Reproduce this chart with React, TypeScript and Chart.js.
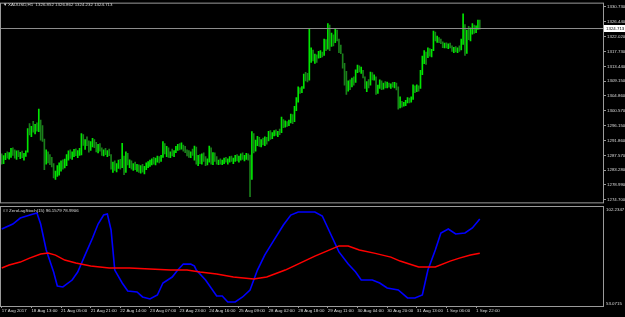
import { useEffect, useRef } from "react";
import { Chart, registerables } from "chart.js";

Chart.register(...registerables);

// ---------- data ----------
const symbolTitle = "XAUUSD,H1";
const lastOHLC = [1326.852, 1326.862, 1324.232, 1324.713];
const bidPrice = 1324.713;
const indicatorTitle = "## ZeroLagStoch(15)";

const firstOpen = 1286.6;
const barHigh = [
  1288.0, 1287.5, 1288.2, 1288.6, 1288.4, 1289.6, 1289.8, 1289.2, 1288.9, 1289.0,
  1288.5, 1288.8, 1288.2, 1288.9, 1295.4, 1296.8, 1296.0, 1297.5, 1296.6, 1297.0,
  1301.0, 1297.8, 1296.2, 1292.3, 1289.2, 1288.6, 1287.8, 1287.0, 1285.2, 1283.0,
  1284.6, 1285.4, 1286.0, 1286.3, 1286.5, 1287.8, 1288.9, 1289.2, 1288.6, 1289.3,
  1289.5, 1289.0, 1289.6, 1293.9, 1293.6, 1292.2, 1293.0, 1291.8, 1291.6, 1292.5,
  1292.2, 1291.4, 1290.8, 1291.0, 1289.8, 1289.2, 1289.6, 1289.0, 1289.4, 1287.8,
  1285.6, 1286.0, 1285.2, 1286.2, 1286.4, 1291.1, 1287.4, 1288.6, 1288.2, 1286.3,
  1286.0, 1285.2, 1285.6, 1285.0, 1284.8, 1284.6, 1285.0, 1284.4, 1285.4, 1285.8,
  1286.2, 1286.6, 1287.0, 1286.8, 1287.4, 1287.2, 1287.6, 1291.6, 1291.0, 1290.2,
  1289.8, 1288.6, 1289.4, 1289.0, 1290.2, 1290.8, 1291.0, 1291.2, 1290.6, 1290.2,
  1289.2, 1289.0, 1288.6, 1289.4, 1290.3, 1290.0, 1287.6, 1287.8, 1288.0, 1288.3,
  1287.2, 1286.6, 1290.3, 1289.8, 1288.4, 1288.3, 1287.2, 1286.2, 1286.6, 1286.2,
  1286.8, 1287.0, 1286.6, 1287.2, 1287.4, 1286.8, 1287.6, 1287.8, 1287.4, 1288.0,
  1288.3, 1287.6, 1288.2, 1288.0, 1287.7, 1294.5, 1293.9, 1292.0, 1293.1, 1292.8,
  1292.2, 1292.6, 1293.0, 1292.8, 1294.6, 1294.8, 1294.2, 1294.8, 1295.0, 1294.6,
  1295.2, 1298.7, 1298.0, 1297.6, 1297.4, 1297.8, 1299.6, 1299.4, 1301.8, 1304.4,
  1307.5, 1307.2, 1307.6, 1311.2, 1311.7, 1311.4, 1324.5, 1318.8, 1318.2, 1317.0,
  1316.8, 1317.8, 1318.0, 1317.6, 1321.4, 1321.2, 1325.9, 1325.4, 1323.1, 1322.6,
  1324.5, 1324.0, 1321.4, 1319.6, 1317.1, 1314.3, 1312.0, 1309.2, 1309.5, 1310.0,
  1310.4, 1312.4, 1313.8, 1313.6, 1313.2, 1312.3, 1310.4, 1309.0, 1309.6, 1311.8,
  1311.6, 1311.0, 1310.4, 1308.0, 1309.5, 1309.2, 1308.6, 1309.0, 1308.9, 1308.6,
  1308.4, 1308.8, 1308.8, 1308.6, 1307.5, 1304.6, 1303.3, 1303.0, 1303.6, 1304.4,
  1304.2, 1304.6, 1308.1, 1307.8, 1308.1, 1307.8, 1312.3, 1316.4, 1318.0, 1317.6,
  1318.8, 1318.6, 1318.4, 1323.7, 1323.4, 1322.2, 1321.8, 1321.4, 1320.6, 1320.2,
  1320.3, 1320.0, 1320.2, 1319.4, 1319.0, 1319.2, 1318.8, 1319.4, 1321.4, 1328.7,
  1325.6, 1324.0, 1325.1, 1324.6, 1325.9, 1325.4, 1325.2, 1326.9, 1326.862,
];
const barLow = [
  1285.0, 1285.2, 1286.3, 1286.8, 1286.5, 1287.0, 1287.6, 1286.8, 1286.4, 1287.2,
  1286.6, 1286.9, 1286.2, 1287.3, 1288.5, 1293.5, 1293.0, 1294.3, 1293.8, 1294.6,
  1294.5, 1292.0, 1291.6, 1283.4, 1285.0, 1285.4, 1284.9, 1284.2, 1281.0, 1280.6,
  1281.5, 1281.8, 1283.0, 1283.6, 1283.9, 1284.6, 1286.2, 1286.7, 1286.4, 1287.2,
  1287.5, 1286.9, 1287.6, 1287.7, 1290.5, 1289.3, 1290.4, 1288.5, 1289.0, 1290.0,
  1289.8, 1288.6, 1288.3, 1288.8, 1287.6, 1287.4, 1287.8, 1287.2, 1287.5, 1283.6,
  1282.6, 1283.2, 1282.8, 1283.8, 1283.6, 1284.0, 1282.0, 1282.6, 1284.8, 1284.0,
  1283.6, 1283.2, 1283.4, 1282.9, 1282.6, 1282.4, 1282.7, 1282.2, 1283.4, 1284.0,
  1284.4, 1284.8, 1285.0, 1284.8, 1285.6, 1285.4, 1285.8, 1287.0, 1288.0, 1287.2,
  1287.0, 1286.9, 1287.4, 1287.2, 1288.4, 1289.0, 1289.2, 1289.4, 1288.8, 1288.4,
  1287.4, 1287.0, 1286.9, 1287.6, 1286.2, 1285.0, 1284.6, 1285.2, 1285.0, 1285.8,
  1284.6, 1284.8, 1285.6, 1285.0, 1284.9, 1285.8, 1285.0, 1284.9, 1285.0, 1284.9,
  1285.2, 1285.6, 1285.0, 1285.6, 1285.8, 1285.2, 1285.8, 1286.0, 1285.6, 1286.2,
  1286.4, 1286.0, 1286.4, 1286.2, 1275.6, 1280.6, 1288.3, 1288.8, 1290.4, 1290.2,
  1290.0, 1290.6, 1290.4, 1290.8, 1291.8, 1292.2, 1292.4, 1293.2, 1293.4, 1293.0,
  1293.6, 1294.2, 1295.6, 1295.8, 1296.0, 1296.2, 1297.0, 1296.8, 1297.4, 1300.6,
  1303.0, 1305.6, 1305.8, 1307.0, 1309.2, 1308.9, 1309.4, 1314.6, 1315.0, 1314.3,
  1314.6, 1315.8, 1316.0, 1316.2, 1316.6, 1318.0, 1318.4, 1318.0, 1319.2, 1319.4,
  1320.3, 1320.8, 1317.4, 1317.1, 1312.9, 1308.0, 1305.3, 1306.2, 1306.7, 1307.5,
  1308.0, 1308.8, 1311.6, 1311.8, 1311.4, 1310.1, 1307.0, 1306.1, 1307.2, 1308.0,
  1309.5, 1309.4, 1305.3, 1305.6, 1307.0, 1306.7, 1306.8, 1307.2, 1307.2, 1307.4,
  1307.0, 1307.4, 1307.2, 1306.6, 1301.0, 1301.4, 1301.6, 1301.9, 1302.0, 1302.8,
  1302.8, 1303.0, 1303.8, 1305.8, 1306.1, 1306.2, 1307.0, 1311.0, 1314.2, 1314.0,
  1316.0, 1316.4, 1316.2, 1318.0, 1320.8, 1320.4, 1320.3, 1320.0, 1318.9, 1318.8,
  1318.8, 1318.6, 1318.8, 1317.8, 1317.4, 1317.6, 1317.4, 1317.8, 1318.2, 1319.8,
  1316.6, 1317.2, 1321.2, 1320.8, 1322.8, 1323.0, 1323.2, 1324.2, 1324.232,
];
const barClose = [
  1286.0, 1287.0, 1287.8, 1287.2, 1288.0, 1289.0, 1288.2, 1287.5, 1288.4, 1287.6,
  1287.9, 1287.0, 1287.7, 1288.6, 1294.8, 1294.2, 1295.6, 1294.9, 1296.2, 1295.0,
  1297.2, 1292.6, 1292.1, 1285.0, 1288.0, 1286.3, 1285.6, 1284.8, 1281.8, 1282.4,
  1283.9, 1284.5, 1285.4, 1284.6, 1286.0, 1287.3, 1288.4, 1287.5, 1288.2, 1288.8,
  1288.0, 1288.6, 1289.2, 1293.0, 1291.2, 1291.8, 1290.9, 1289.6, 1291.0, 1291.8,
  1290.4, 1289.2, 1290.2, 1289.4, 1288.2, 1288.8, 1288.0, 1288.6, 1287.9, 1284.2,
  1284.8, 1283.8, 1284.6, 1285.8, 1284.2, 1286.5, 1282.8, 1287.8, 1285.4, 1285.8,
  1284.2, 1284.8, 1283.9, 1284.4, 1283.2, 1283.8, 1283.0, 1284.0, 1285.0, 1285.5,
  1285.9, 1286.3, 1285.6, 1286.5, 1287.0, 1286.2, 1287.4, 1290.8, 1288.6, 1289.6,
  1287.6, 1288.2, 1287.8, 1288.6, 1289.8, 1290.4, 1289.6, 1290.8, 1289.4, 1288.8,
  1288.6, 1287.4, 1288.2, 1288.0, 1289.8, 1285.6, 1286.8, 1285.8, 1287.4, 1286.2,
  1285.2, 1286.2, 1289.6, 1285.8, 1287.8, 1286.4, 1285.4, 1285.8, 1285.4, 1286.0,
  1286.4, 1285.9, 1286.2, 1286.8, 1286.0, 1286.4, 1287.2, 1286.4, 1287.0, 1287.6,
  1286.8, 1287.2, 1287.8, 1286.6, 1281.0, 1292.8, 1290.0, 1291.4, 1292.6, 1290.8,
  1291.8, 1291.2, 1292.4, 1291.4, 1294.0, 1292.8, 1293.8, 1294.2, 1293.6, 1294.4,
  1294.0, 1297.8, 1296.4, 1297.2, 1296.4, 1297.5, 1299.0, 1298.4, 1301.2, 1303.4,
  1306.8, 1306.2, 1307.2, 1310.4, 1310.0, 1309.6, 1315.4, 1317.4, 1315.6, 1316.2,
  1315.2, 1316.6, 1317.4, 1316.8, 1320.8, 1319.2, 1324.6, 1319.6, 1322.2, 1320.6,
  1323.6, 1321.4, 1318.0, 1317.6, 1313.6, 1309.0, 1306.8, 1308.4, 1307.4, 1309.6,
  1308.6, 1311.8, 1313.2, 1312.2, 1312.8, 1310.6, 1307.6, 1308.4, 1307.8, 1311.2,
  1310.0, 1310.6, 1306.2, 1307.4, 1308.8, 1307.2, 1308.2, 1307.6, 1308.4, 1307.8,
  1308.0, 1307.6, 1308.2, 1307.0, 1302.0, 1303.6, 1302.2, 1302.8, 1303.2, 1304.0,
  1303.4, 1304.2, 1307.4, 1306.4, 1307.6, 1306.8, 1311.6, 1315.8, 1316.8, 1315.0,
  1318.2, 1317.0, 1317.8, 1322.8, 1321.4, 1321.6, 1320.8, 1320.4, 1319.4, 1319.8,
  1319.2, 1319.6, 1319.0, 1318.2, 1318.6, 1317.9, 1318.4, 1318.0, 1320.8, 1323.0,
  1318.0, 1323.2, 1322.6, 1324.0, 1324.8, 1323.6, 1324.8, 1326.852, 1324.713,
];

const priceTicks = [
  1274.7, 1278.99, 1283.28, 1287.57, 1291.86, 1296.15, 1300.57,
  1304.86, 1309.15, 1313.44, 1317.73, 1322.02, 1326.44, 1330.73,
];

// ZeroLagStoch lines: bar index -> value
const blueBar = [
  0, 6, 10, 17, 19, 21, 24, 28, 30, 33, 38, 41, 45, 49, 52, 55, 57, 59, 61, 65,
  68, 73, 76, 80, 84, 87, 92, 95, 98, 102, 104, 105, 110, 116, 119, 122, 126, 130, 134, 138,
  142, 147, 152, 156, 160, 169, 173, 177, 182, 187, 191, 194, 200, 204, 208, 214, 219, 223, 227, 230,
  234, 237, 241, 245, 250, 254, 258,
];
const blueVal = [
  91.2, 93.7, 96.7, 98.7, 99.2, 93.7, 80.7, 69.6, 62.6, 62.1, 65.6, 69.6, 78.2, 86.7, 93.7, 98.2, 98.7, 90.7, 70.6, 64.1,
  60.1, 59.6, 57.1, 56.1, 58.1, 64.1, 67.1, 70.6, 73.6, 73.6, 72.6, 70.6, 65.6, 57.6, 57.6, 54.6, 54.6, 57.1, 60.6, 70.6,
  78.2, 85.7, 93.2, 98.2, 99.7, 99.7, 97.7, 89.7, 79.7, 73.6, 69.6, 65.6, 65.6, 64.1, 61.6, 60.6, 56.6, 56.6, 58.1, 70.6,
  80.7, 89.2, 91.2, 88.7, 89.2, 91.7, 96.1579,
];
const redBar = [
  0, 4, 10, 15, 21, 25, 29, 34, 40, 48, 58, 69, 80, 91, 100, 107, 116, 125, 136, 143,
  153, 161, 169, 177, 182, 187, 193, 201, 210, 215, 220, 225, 234, 242, 247, 253, 258,
];
const redVal = [
  71.6, 73.1, 74.6, 76.6, 78.6, 79.1, 78.1, 75.6, 74.1, 72.6, 71.6, 71.6, 71.1, 70.6, 70.6, 69.6, 68.6, 67.1, 66.1, 67.1,
  70.6, 74.1, 77.6, 80.7, 82.7, 82.7, 80.7, 79.1, 77.1, 75.1, 73.6, 72.1, 72.1, 75.1, 76.6, 78.1, 78.9906,
];
const stochScaleLabels = [53.0715, 102.2347];

const timeLabels = [
  "17 Aug 2017", "18 Aug 13:00", "21 Aug 05:00", "21 Aug 21:00", "22 Aug 14:00",
  "23 Aug 07:00", "23 Aug 23:00", "24 Aug 16:00", "25 Aug 09:00", "28 Aug 02:00",
  "28 Aug 18:00", "29 Aug 11:00", "30 Aug 04:00", "30 Aug 20:00", "31 Aug 13:00",
  "1 Sep 06:00", "1 Sep 22:00",
];
const barsPerTimeLabel = 16;

// ---------- styles ----------
const FONT = "'Liberation Sans', Arial, sans-serif";
const FS = 4.4;
const TEXT = "#dcdcdc";
const FRAME = "#9a9a9a";
const UP = "#00e600";
const DOWN = "#1b7f1b";
const X_MIN = -0.4;
const X_MAX = 324.5;

const framePlugin = {
  id: "frame",
  afterDraw(chart: any) {
    const { ctx, chartArea: a } = chart;
    ctx.save();
    ctx.strokeStyle = FRAME;
    ctx.lineWidth = 1;
    ctx.strokeRect(a.left - 0.5, a.top - 0.5, a.right - a.left + 1, a.bottom - a.top + 1);
    ctx.restore();
  },
};

export default function App() {
  const topRef = useRef<HTMLCanvasElement>(null);
  const botRef = useRef<HTMLCanvasElement>(null);

  useEffect(() => {
    const opens = barClose.map((c, i) => (i === 0 ? firstOpen : barClose[i - 1]));
    const barData = barHigh.map((h, i) => ({ x: i, y: [barLow[i], h] }));
    const barColors = barClose.map((c, i) => (c >= opens[i] ? UP : DOWN));

    const mainOverlay = {
      id: "mainOverlay",
      afterDraw(chart: any) {
        const { ctx, chartArea: a, scales } = chart;
        const y = Math.round(scales.y.getPixelForValue(bidPrice)) + 0.5;
        ctx.save();
        ctx.strokeStyle = "#8c8c8c";
        ctx.lineWidth = 1;
        ctx.beginPath();
        ctx.moveTo(a.left, y);
        ctx.lineTo(a.right, y);
        ctx.stroke();
        ctx.fillStyle = "#ffffff";
        ctx.fillRect(a.right + 1, y - 3.5, 21, 7);
        ctx.fillStyle = "#000000";
        ctx.font = `${FS}px ${FONT}`;
        ctx.textBaseline = "middle";
        ctx.textAlign = "left";
        ctx.fillText(bidPrice.toFixed(3), a.right + 3, y);
        ctx.fillStyle = TEXT;
        ctx.fillText("▼", 3, 5);
        ctx.fillText(`${symbolTitle}  ${lastOHLC.map((v) => v.toFixed(3)).join(" ")}`, 8, 5);
        ctx.restore();
      },
    };

    const top = new Chart(topRef.current!, {
      type: "bar",
      data: {
        datasets: [
          {
            data: barData as any,
            backgroundColor: barColors,
            borderWidth: 0,
            barThickness: 1,
            grouped: false,
          } as any,
        ],
      },
      options: {
        animation: false,
        responsive: false,
        maintainAspectRatio: false,
        layout: { padding: { left: 1, top: 1, bottom: 1, right: 0 } },
        plugins: { legend: { display: false }, tooltip: { enabled: false } },
        scales: {
          x: { type: "linear", min: X_MIN, max: X_MAX, offset: false, display: false },
          y: {
            position: "right",
            min: 1273.93,
            max: 1331.66,
            afterFit: (s: any) => {
              s.width = 22;
            },
            afterBuildTicks: (s: any) => {
              s.ticks = priceTicks.map((v) => ({ value: v }));
            },
            ticks: {
              autoSkip: false,
              color: TEXT,
              padding: 1,
              font: { family: FONT, size: FS },
              callback: (v: any) => Number(v).toFixed(3),
            },
            grid: { drawOnChartArea: false, tickLength: 3, color: FRAME },
            border: { color: FRAME },
          },
        },
      },
      plugins: [framePlugin, mainOverlay],
    });

    const botOverlay = {
      id: "botOverlay",
      afterDraw(chart: any) {
        const { ctx, chartArea: a, scales } = chart;
        ctx.save();
        ctx.fillStyle = TEXT;
        ctx.font = `${FS}px ${FONT}`;
        ctx.textBaseline = "middle";
        ctx.textAlign = "left";
        ctx.fillText(
          `${indicatorTitle} ${blueVal[blueVal.length - 1].toFixed(4)} ${redVal[redVal.length - 1].toFixed(4)}`,
          3,
          a.top + 3.5
        );
        const yTop = scales.y.getPixelForValue(stochScaleLabels[1]);
        const yBot = scales.y.getPixelForValue(stochScaleLabels[0]);
        ctx.fillText(stochScaleLabels[1].toFixed(4), a.right + 3, yTop + 3);
        ctx.fillText(stochScaleLabels[0].toFixed(4), a.right + 3, yBot - 1);
        ctx.restore();
      },
    };

    const bot = new Chart(botRef.current!, {
      type: "line",
      data: {
        datasets: [
          {
            data: redBar.map((x, i) => ({ x, y: redVal[i] })),
            borderColor: "#ff0000",
            borderWidth: 1.5,
            pointRadius: 0,
            tension: 0,
          },
          {
            data: blueBar.map((x, i) => ({ x, y: blueVal[i] })),
            borderColor: "#0000ff",
            borderWidth: 1.6,
            pointRadius: 0,
            tension: 0,
          },
        ],
      },
      options: {
        animation: false,
        responsive: false,
        maintainAspectRatio: false,
        layout: { padding: { left: 1, top: 1, bottom: 0, right: 0 } },
        plugins: { legend: { display: false }, tooltip: { enabled: false } },
        scales: {
          x: {
            type: "linear",
            position: "bottom",
            min: X_MIN,
            max: X_MAX,
            offset: false,
            afterFit: (s: any) => {
              s.height = 11;
            },
            afterBuildTicks: (s: any) => {
              s.ticks = timeLabels.map((_, k) => ({ value: k * barsPerTimeLabel }));
            },
            ticks: {
              autoSkip: false,
              maxRotation: 0,
              align: "start",
              padding: 0,
              color: TEXT,
              font: { family: FONT, size: FS },
              callback: (v: any) => timeLabels[Math.round(Number(v) / barsPerTimeLabel)] ?? "",
            },
            grid: { drawOnChartArea: false, tickLength: 2, color: FRAME },
            border: { color: FRAME },
          },
          y: {
            position: "right",
            min: 52.57,
            max: 102.23,
            afterFit: (s: any) => {
              s.width = 22;
            },
            ticks: { display: false },
            grid: { display: false },
            border: { color: FRAME },
          },
        },
      },
      plugins: [framePlugin, botOverlay],
    });

    return () => {
      top.destroy();
      bot.destroy();
    };
  }, []);

  return (
    <div
      style={{
        position: "absolute",
        left: 0,
        top: 0,
        width: 625,
        height: 317,
        background: "#000",
        overflow: "hidden",
      }}
    >
      <canvas
        ref={topRef}
        width={625}
        height={206}
        style={{ position: "absolute", left: 0, top: 0, width: 625, height: 206, display: "block" }}
      />
      <canvas
        ref={botRef}
        width={625}
        height={111}
        style={{ position: "absolute", left: 0, top: 206, width: 625, height: 111, display: "block" }}
      />
    </div>
  );
}
